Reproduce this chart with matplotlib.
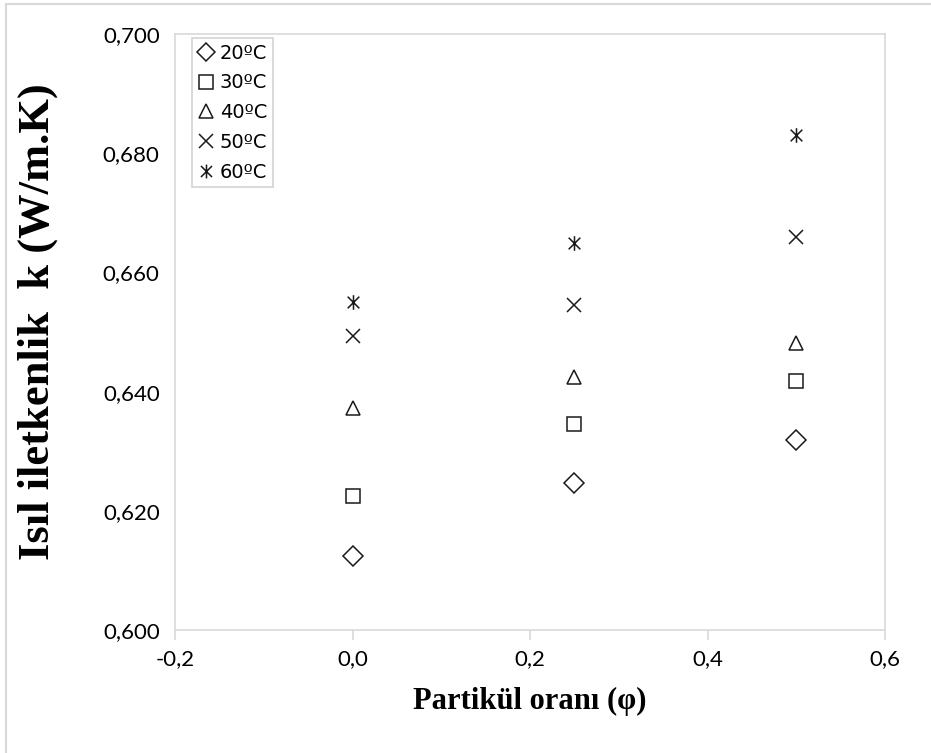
import numpy as np
import matplotlib.pyplot as plt
from matplotlib.path import Path
from matplotlib.patches import Rectangle
from matplotlib.ticker import FuncFormatter, MultipleLocator

# particle ratio and thermal conductivity per temperature
phi = [0.0, 0.25, 0.5]
k_20 = [0.6124, 0.6247, 0.6318]
k_30 = [0.6225, 0.6346, 0.6417]
k_40 = [0.6373, 0.6425, 0.6482]
k_50 = [0.6494, 0.6545, 0.6659]
k_60 = [0.6550, 0.6650, 0.6830]
labels = ['20ºC', '30ºC', '40ºC', '50ºC', '60ºC']

# excel style asterisk: x with a vertical bar
star = Path([(-1, -1), (1, 1), (-1, 1), (1, -1), (0, -1.25), (0, 1.25)],
            [Path.MOVETO, Path.LINETO, Path.MOVETO, Path.LINETO, Path.MOVETO, Path.LINETO])

markers = [('D', 10), ('s', 10.5), ('^', 10.5), ('x', 10.5), (star, 10.5)]
series = [k_20, k_30, k_40, k_50, k_60]

fig = plt.figure(figsize=(9.31, 7.53), dpi=100)
ax = fig.add_axes([175 / 931, 1 - 630 / 753, (885 - 175) / 931, (630 - 34) / 753])

for vals, (m, ms), lab in zip(series, markers, labels):
    ax.plot(phi, vals, linestyle='none', marker=m, markersize=ms,
            markerfacecolor='none', markeredgecolor='#1a1a1a', markeredgewidth=1.1, label=lab)

ax.set_xlim(-0.2, 0.6)
ax.set_ylim(0.600, 0.700)
ax.xaxis.set_major_locator(MultipleLocator(0.2))
ax.yaxis.set_major_locator(MultipleLocator(0.02))
ax.xaxis.set_major_formatter(FuncFormatter(lambda v, p: f'{v:.1f}'.replace('.', ',').replace('-0,0', '0,0')))
ax.yaxis.set_major_formatter(FuncFormatter(lambda v, p: f'{v:.3f}'.replace('.', ',')))

for s in ax.spines.values():
    s.set_color('#d9d9d9')
    s.set_linewidth(1.2)
ax.tick_params(axis='x', direction='out', length=7, width=1.2, color='#d9d9d9', pad=7)
ax.tick_params(axis='y', length=0, pad=11)
for t in ax.get_xticklabels() + ax.get_yticklabels():
    t.set_fontfamily('Lato')
    t.set_fontsize(16)
    t.set_color('black')

ax.set_xlabel('Partikül oranı (φ)', fontfamily='Liberation Serif', fontweight='bold', fontsize=22)
ax.xaxis.set_label_coords(0.5, -0.095)
ax.set_ylabel('Isıl iletkenlik  k (W/m.K)', fontfamily='Liberation Serif', fontweight='bold', fontsize=32)
ax.yaxis.set_label_coords(-0.165, 0.517)

leg = ax.legend(loc='upper left', bbox_to_anchor=(0.019, 1.0), fontsize=14, frameon=True,
                fancybox=False, edgecolor='#c8c8c8', handlelength=0.8, handletextpad=0.3,
                labelspacing=0.55, borderpad=0.3, borderaxespad=0.2, markerscale=0.95)
leg.get_frame().set_linewidth(1.2)

# outer chart border
fig.patches.append(Rectangle((6 / 931, -0.1), 1.1, 1 - 4 / 753 + 0.1, transform=fig.transFigure,
                             fill=False, edgecolor='#d9d9d9', linewidth=1.5, clip_on=False))

fig.savefig('out.png', dpi=100)
